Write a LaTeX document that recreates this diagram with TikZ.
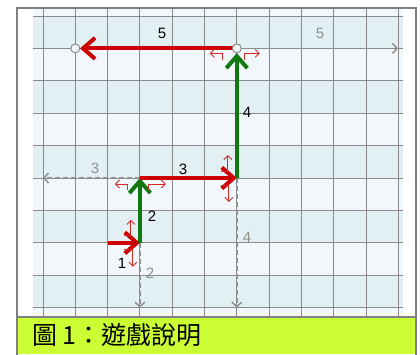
\documentclass[tikz,border=0pt]{standalone}
\usepackage{fontspec}
\setmainfont{Liberation Sans}
\newfontfamily\cjk{Noto Sans CJK TC}
\usetikzlibrary{arrows.meta}
\definecolor{redA}{HTML}{CC0000}
\definecolor{greenA}{HTML}{117711}
\definecolor{gridc}{HTML}{8A8A8A}
\definecolor{rowdark}{HTML}{E3F0F3}
\definecolor{rowlight}{HTML}{F1F7FA}
\definecolor{framec}{HTML}{808080}
\definecolor{capc}{HTML}{CCFF33}
\definecolor{hintc}{HTML}{D42A2A}
\definecolor{ghost}{HTML}{909090}
\begin{document}
\begin{tikzpicture}[x=1pt,y=-1pt,
  bigred/.style={draw=redA, line width=4pt, -{Straight Barb[length=12pt,width=21pt]}},
  biggreen/.style={draw=greenA, line width=4pt, -{Straight Barb[length=12pt,width=21pt]}},
  ghostarrow/.style={draw=ghost, line width=1.5pt, dash pattern=on 5pt off 3pt, -{Straight Barb[length=4.5pt,width=10pt]}},
  hint/.style={draw=hintc, line width=0.9pt, -{Straight Barb[length=4pt,width=8pt]}},
  dot/.style={circle, minimum size=9pt, inner sep=0pt},
  dotlook/.style={draw=gridc, fill=rowdark!60!white, line width=1pt},
  num/.style={font=\fontsize{15}{15}\selectfont, inner sep=0pt},
  ghostnum/.style={num, text=ghost},
  gridline/.style={draw=gridc, line width=1pt},
]
\useasboundingbox (0,0) rectangle (420,354);
\fill[white] (0,0) rectangle (420,354);
% grid background
\fill[rowlight] (33,8) rectangle (403,317);
\foreach \k in {0,2,4,6,8}
  \fill[rowdark] (33,16+32.4*\k) rectangle (403,48.4+32.4*\k);
\foreach \k in {0,...,9}
  \draw[gridline] (33,16+32.4*\k) -- (403,16+32.4*\k);
\foreach \c in {0,...,11}
  \draw[gridline] (43+32.3*\c,8) -- (43+32.3*\c,317);
% caption band and frame
\fill[capc] (17,317) rectangle (416,354);
\draw[framec, line width=2pt] (17,356) -- (17,8) -- (416,8) -- (416,356);
\draw[framec, line width=2pt] (17,317) -- (416,317);
\node[anchor=west, inner sep=0pt, font=\cjk\fontsize{25}{25}\selectfont] (cap) at (32,335) {圖 1：遊戲說明};
% points
\coordinate (s) at (107.6,242.8);
\coordinate (a) at (139.9,242.8);
\coordinate (b) at (139.9,178);
\coordinate (c) at (236.8,178);
\node[dot] (d) at (236.8,48.4) {};
\node[dot] (e) at (75.3,48.4) {};
\coordinate (g2) at (139.9,307.6);
\coordinate (g3) at (43,178);
\coordinate (g4) at (236.8,307.6);
\coordinate (g5) at (398,48.4);
% ghost (dashed) alternatives
\draw[ghostarrow] (a) -- (g2);
\draw[ghostarrow] (b) -- (g3);
\draw[ghostarrow] (c) -- (g4);
\draw[ghostarrow] (d) -- (g5);
% main path
\draw[bigred] (s) -- (a);
\draw[biggreen] (a) -- (b);
\draw[bigred] (b) -- (c);
\draw[biggreen] (c) -- (d);
\draw[bigred] (d.center) -- (e);
% turn hints
\draw[hint, shift={(a)}] (-16,-7) -- (-9,-7) -- (-9,-23);
\draw[hint, shift={(a)}] (-16,7) -- (-7,7) -- (-7,24);
\draw[hint, shift={(c)}] (-16,-7) -- (-9,-7) -- (-9,-23);
\draw[hint, shift={(c)}] (-16,7) -- (-8,7) -- (-8,24);
\draw[hint, shift={(b)}] (-12,12) -- (-12,6) -- (-25,6);
\draw[hint, shift={(b)}] (9,12) -- (9,6) -- (26,6);
\draw[hint, shift={(d.center)}] (-14,12) -- (-14,5) -- (-27,5);
\draw[hint, shift={(d.center)}] (8,12) -- (8,5) -- (23,5);
% circles
\path[dotlook] (d.center) circle (4.5pt);
\path[dotlook] (e.center) circle (4.5pt);
% labels
\node[num] (l1) at (122,263) {1};
\node[num] (l2) at (152,216) {2};
\node[num] (l3) at (183,169) {3};
\node[num] (l4) at (247,112) {4};
\node[num] (l5) at (162,33) {5};
\node[ghostnum] (m2) at (150,273) {2};
\node[ghostnum] (m3) at (95,168) {3};
\node[ghostnum] (m4) at (247,237) {4};
\node[ghostnum] (m5) at (320,33) {5};
\end{tikzpicture}
\end{document}
